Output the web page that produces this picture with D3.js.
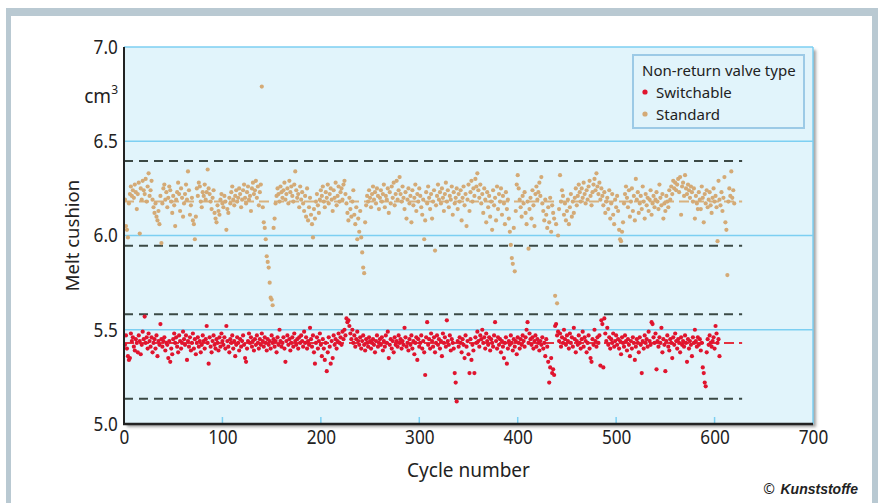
<!DOCTYPE html>
<html>
<head>
<meta charset="utf-8">
<script src="https://cdn.jsdelivr.net/npm/d3@7"></script>
<style>
  body { margin: 0; background: #fff; }
  svg { display: block; }
  text { font-family: "Noto Sans", "Open Sans", sans-serif; fill: #222; }
</style>
</head>
<body>
<div id="chart"></div>
<script>
// tick labels
const xTicks = [0, 100, 200, 300, 400, 500, 600, 700];
const yTicks = [5.0, 5.5, 6.0, 6.5, 7.0];
const gridValues = [5.5, 6.0, 6.5];

// legend
const seriesNames = ["Switchable", "Standard"];

// control limits
const standardLimits = [6.395, 5.946];
const standardMean = 6.18;
const switchableLimits = [5.582, 5.134];
const switchableMean = 5.43;
const limitCycles = [0, 628];

// melt cushion per cycle (cycle = index + 1), standard valve
const standard = [
  6.19,6.05,6.03,5.99,6.17,6.22,6.26,6.21,6.24,6.20,6.27,6.23,6.14,6.22,6.28,6.01,6.25,6.19,6.29,6.24,
  6.22,6.30,6.18,6.26,6.33,6.21,6.24,6.29,6.19,6.15,6.12,6.17,6.10,6.08,6.13,6.06,6.21,5.96,6.17,6.25,
  6.27,6.19,6.23,6.15,6.20,6.26,6.24,6.18,6.12,6.21,6.16,6.05,6.19,6.23,6.28,6.22,6.13,6.25,6.20,6.10,
  6.17,6.22,6.27,6.19,6.34,6.24,6.11,6.16,6.20,6.08,6.06,5.98,6.10,6.25,6.21,6.28,6.26,6.18,6.15,6.23,
  6.21,6.27,6.19,6.23,6.35,6.25,6.22,6.18,6.14,6.20,6.24,6.12,6.09,6.07,6.16,6.13,6.11,6.19,6.22,6.17,
  6.15,6.21,6.18,6.03,6.14,6.12,6.20,6.17,6.23,6.26,6.19,6.16,6.21,6.24,6.18,6.20,6.25,6.22,6.15,6.19,
  6.24,6.27,6.20,6.17,6.23,6.26,6.19,6.21,6.13,6.25,6.28,6.22,6.24,6.29,6.20,6.26,6.16,6.23,6.27,6.79,
  6.15,6.07,6.04,5.98,5.89,5.86,5.83,5.75,5.67,5.66,5.63,6.04,6.09,6.17,6.21,6.25,6.22,6.18,6.26,6.23,
  6.20,6.24,6.28,6.19,6.22,6.25,6.17,6.29,6.23,6.26,6.21,6.18,6.27,6.34,6.24,6.20,6.22,6.15,6.26,6.19,
  6.23,6.17,6.13,6.21,6.10,6.25,6.08,6.15,6.20,6.11,6.06,5.99,6.14,6.09,6.18,6.22,6.16,6.12,6.19,6.24,
  6.21,6.26,6.18,6.15,6.23,6.20,6.27,6.17,6.22,6.25,6.19,6.13,6.24,6.20,6.28,6.16,6.21,6.26,6.18,6.23,
  6.25,6.19,6.27,6.29,6.22,6.17,6.12,6.08,6.20,6.14,6.10,6.18,6.24,6.11,6.06,6.15,5.98,6.09,6.02,6.13,
  5.99,5.91,5.83,5.80,6.07,6.16,6.21,6.18,6.24,6.20,6.15,6.22,6.26,6.19,6.23,6.17,6.25,6.21,6.14,6.20,
  6.24,6.18,6.22,6.27,6.15,6.21,6.19,6.25,6.12,6.23,6.17,6.26,6.20,6.28,6.16,6.22,6.29,6.19,6.24,6.31,
  6.22,6.18,6.26,6.20,6.14,6.23,6.09,6.19,6.25,6.17,6.21,6.07,6.24,6.16,6.20,6.27,6.13,6.22,6.18,6.25,
  6.21,6.15,6.11,6.19,5.98,6.08,6.23,6.17,6.26,6.20,6.14,6.22,6.09,6.18,6.24,5.92,6.16,6.21,6.27,6.19,
  6.23,6.17,6.25,6.20,6.13,6.22,6.28,6.18,6.24,6.15,6.21,6.19,6.26,6.11,6.23,6.17,6.20,6.25,6.14,6.22,
  6.18,6.24,6.08,6.20,6.26,6.16,6.22,6.05,6.19,6.27,6.13,6.23,6.29,6.18,6.25,6.21,6.30,6.26,6.33,6.24,
  6.20,6.27,6.17,6.22,6.12,6.25,6.19,6.07,6.23,6.15,6.21,6.10,6.18,6.03,6.24,6.16,6.20,6.08,6.26,6.14,
  6.22,6.18,6.25,6.11,6.21,6.17,6.06,6.23,6.14,6.19,6.09,6.02,5.95,5.88,5.85,6.04,5.81,6.13,6.27,6.32,
  6.25,6.19,6.15,6.10,6.21,6.17,6.23,6.12,6.06,6.18,5.93,6.14,6.20,6.09,6.24,6.16,6.05,6.22,6.26,6.19,
  6.23,6.28,6.21,6.31,6.17,6.13,6.08,6.19,6.11,6.04,6.15,6.07,6.20,6.02,6.16,6.12,6.09,5.68,6.06,5.64,
  6.00,6.14,6.32,6.18,6.24,6.21,6.11,6.17,6.08,6.13,6.19,6.06,6.15,6.22,6.10,6.18,6.12,6.20,6.25,6.16,
  6.21,6.27,6.23,6.18,6.25,6.20,6.28,6.22,6.17,6.24,6.19,6.26,6.29,6.21,6.16,6.23,6.27,6.30,6.24,6.33,
  6.26,6.22,6.28,6.19,6.25,6.21,6.16,6.23,6.12,6.18,6.20,6.14,6.24,6.09,6.17,6.22,6.11,6.06,6.19,6.15,
  6.21,6.13,6.03,5.98,5.97,6.02,6.07,6.17,6.22,6.26,6.20,6.15,6.24,6.10,6.18,6.25,6.13,6.21,6.08,6.30,
  6.19,6.23,6.12,6.17,6.21,6.14,6.26,6.18,6.09,6.22,6.16,6.20,6.13,6.19,6.24,6.11,6.17,6.21,6.15,6.19,
  6.23,6.18,6.14,6.27,6.20,6.16,6.22,6.09,6.17,6.13,6.21,6.18,6.15,6.24,6.19,6.26,6.22,6.29,6.25,6.28,
  6.24,6.27,6.30,6.23,6.31,6.11,6.26,6.28,6.21,6.32,6.25,6.22,6.27,6.24,6.20,6.26,6.23,6.18,6.25,6.09,
  6.21,6.17,6.14,6.23,6.19,6.14,6.26,6.20,6.07,6.22,6.17,6.24,6.15,6.19,6.23,6.16,6.12,6.20,6.25,6.18,
  6.21,6.15,5.97,6.29,6.19,6.16,6.23,6.13,6.20,6.31,6.07,6.03,5.79,6.18,6.25,6.21,6.34,6.20,6.24,6.17
];

// melt cushion per cycle (cycle = index + 1), switchable valve
const switchable = [
  5.42,5.47,5.40,5.36,5.34,5.35,5.48,5.44,5.46,5.41,5.39,5.45,5.43,5.38,5.47,5.44,5.37,5.42,5.49,5.45,
  5.57,5.43,5.46,5.40,5.48,5.44,5.41,5.46,5.38,5.43,5.45,5.40,5.47,5.36,5.44,5.42,5.53,5.45,5.41,5.44,
  5.46,5.39,5.43,5.42,5.35,5.44,5.33,5.40,5.37,5.45,5.48,5.43,5.46,5.41,5.38,5.47,5.44,5.40,5.43,5.49,
  5.45,5.42,5.47,5.34,5.44,5.41,5.46,5.39,5.43,5.48,5.40,5.45,5.37,5.43,5.46,5.41,5.44,5.38,5.42,5.47,
  5.44,5.40,5.45,5.52,5.43,5.32,5.46,5.41,5.38,5.44,5.47,5.42,5.40,5.45,5.43,5.39,5.46,5.41,5.48,5.44,
  5.42,5.46,5.40,5.52,5.44,5.41,5.38,5.45,5.43,5.47,5.40,5.44,5.36,5.42,5.46,5.43,5.39,5.45,5.41,5.44,
  5.47,5.42,5.35,5.33,5.40,5.44,5.48,5.43,5.46,5.41,5.44,5.39,5.45,5.42,5.47,5.43,5.40,5.45,5.42,5.48,
  5.44,5.41,5.46,5.43,5.39,5.45,5.42,5.44,5.40,5.47,5.43,5.45,5.41,5.44,5.38,5.46,5.42,5.50,5.44,5.41,
  5.43,5.46,5.40,5.33,5.44,5.47,5.42,5.45,5.39,5.43,5.46,5.41,5.48,5.44,5.42,5.45,5.40,5.46,5.43,5.47,
  5.44,5.41,5.49,5.43,5.46,5.40,5.44,5.42,5.51,5.45,5.41,5.47,5.38,5.32,5.43,5.46,5.40,5.44,5.48,5.42,
  5.36,5.45,5.40,5.34,5.43,5.28,5.38,5.46,5.41,5.32,5.44,5.35,5.47,5.42,5.45,5.40,5.44,5.48,5.43,5.46,
  5.42,5.49,5.45,5.50,5.47,5.56,5.54,5.55,5.52,5.48,5.45,5.50,5.43,5.47,5.41,5.45,5.49,5.44,5.42,5.46,
  5.40,5.44,5.47,5.42,5.39,5.45,5.43,5.41,5.46,5.44,5.40,5.43,5.45,5.42,5.38,5.44,5.47,5.41,5.43,5.45,
  5.42,5.46,5.39,5.44,5.41,5.47,5.43,5.49,5.35,5.42,5.45,5.40,5.44,5.38,5.46,5.42,5.44,5.41,5.47,5.43,
  5.45,5.40,5.44,5.42,5.51,5.46,5.41,5.43,5.39,5.45,5.42,5.47,5.40,5.44,5.37,5.43,5.46,5.34,5.45,5.41,
  5.43,5.47,5.40,5.44,5.38,5.26,5.46,5.54,5.42,5.45,5.40,5.48,5.44,5.41,5.46,5.38,5.43,5.47,5.42,5.45,
  5.40,5.44,5.36,5.48,5.43,5.46,5.41,5.55,5.44,5.42,5.47,5.39,5.45,5.43,5.40,5.27,5.22,5.12,5.44,5.41,
  5.46,5.43,5.38,5.45,5.42,5.35,5.47,5.41,5.44,5.37,5.27,5.45,5.34,5.42,5.39,5.27,5.46,5.43,5.49,5.44,
  5.41,5.47,5.45,5.50,5.43,5.46,5.40,5.48,5.44,5.42,5.46,5.39,5.45,5.43,5.41,5.47,5.54,5.44,5.40,5.46,
  5.42,5.45,5.38,5.44,5.41,5.35,5.43,5.46,5.32,5.40,5.44,5.42,5.47,5.43,5.39,5.45,5.41,5.44,5.37,5.46,
  5.43,5.40,5.45,5.42,5.47,5.44,5.41,5.46,5.50,5.54,5.43,5.48,5.45,5.42,5.46,5.40,5.44,5.47,5.41,5.45,
  5.43,5.39,5.44,5.42,5.46,5.40,5.43,5.36,5.45,5.41,5.33,5.22,5.30,5.35,5.27,5.29,5.26,5.52,5.53,5.47,
  5.49,5.44,5.48,5.41,5.46,5.43,5.50,5.45,5.42,5.47,5.44,5.40,5.48,5.43,5.46,5.41,5.51,5.45,5.38,5.44,
  5.42,5.47,5.43,5.40,5.45,5.49,5.41,5.46,5.44,5.38,5.43,5.47,5.40,5.35,5.33,5.45,5.42,5.50,5.44,5.41,
  5.46,5.43,5.47,5.31,5.55,5.53,5.30,5.56,5.48,5.44,5.51,5.42,5.46,5.40,5.45,5.43,5.48,5.41,5.44,5.47,
  5.42,5.45,5.40,5.44,5.37,5.46,5.43,5.41,5.47,5.44,5.39,5.45,5.42,5.36,5.44,5.40,5.46,5.43,5.34,5.41,
  5.45,5.43,5.38,5.46,5.42,5.27,5.44,5.40,5.47,5.43,5.45,5.41,5.49,5.44,5.42,5.54,5.53,5.46,5.43,5.48,
  5.29,5.44,5.41,5.46,5.43,5.51,5.38,5.45,5.42,5.28,5.44,5.47,5.41,5.39,5.45,5.43,5.35,5.46,5.42,5.48,
  5.44,5.40,5.45,5.43,5.38,5.46,5.42,5.44,5.41,5.47,5.43,5.33,5.45,5.40,5.44,5.42,5.36,5.46,5.43,5.50,
  5.44,5.41,5.46,5.42,5.45,5.39,5.43,5.30,5.27,5.22,5.20,5.38,5.45,5.42,5.47,5.43,5.41,5.44,5.46,5.40,
  5.52,5.48,5.43,5.45,5.36
];

const W = 878, H = 503;
const margin = { top: 47, right: 65, bottom: 79, left: 124 },
    width = W - margin.left - margin.right,
    height = H - margin.top - margin.bottom;

const svg = d3.select("#chart").append("svg")
    .attr("width", W)
    .attr("height", H);

// outer frame
svg.append("rect").attr("x", 6).attr("y", 8).attr("width", W - 6).attr("height", H)
    .attr("fill", "#b9c9d2");
svg.append("rect").attr("x", 11).attr("y", 16).attr("width", 861).attr("height", H)
    .attr("fill", "#fff");

const defs = svg.append("defs");
const f = defs.append("filter").attr("id", "shadow")
    .attr("x", "-5%").attr("y", "-5%").attr("width", "110%").attr("height", "110%");
f.append("feDropShadow").attr("dx", 3).attr("dy", 3).attr("stdDeviation", 1.5)
    .attr("flood-color", "#555").attr("flood-opacity", 0.55);

const x = d3.scaleLinear().domain([0, 700]).range([margin.left, margin.left + width]);
const y = d3.scaleLinear().domain([5, 7]).range([margin.top + height, margin.top]);

// plot area
svg.append("rect")
    .attr("x", x(0)).attr("y", y(7))
    .attr("width", x(700) - x(0)).attr("height", y(5) - y(7))
    .attr("fill", "#e1f4fb")
    .attr("filter", "url(#shadow)");

// grid lines
svg.append("g")
    .selectAll("line")
    .data(gridValues.concat([7.0]))
    .join("line")
    .attr("x1", x(0)).attr("x2", x(700))
    .attr("y1", d => y(d)).attr("y2", d => y(d))
    .attr("stroke", "#7ccff2").attr("stroke-width", 1.5);

svg.append("line")
    .attr("x1", x(700)).attr("x2", x(700))
    .attr("y1", y(7)).attr("y2", y(5))
    .attr("stroke", "#7ccff2").attr("stroke-width", 1.5);

// small inner ticks at the bottom
svg.append("g")
    .selectAll("line")
    .data(xTicks.slice(1, -1))
    .join("line")
    .attr("x1", d => x(d)).attr("x2", d => x(d))
    .attr("y1", y(5) - 7).attr("y2", y(5))
    .attr("stroke", "#7ccff2").attr("stroke-width", 1.5);

// control limits (black dashes)
const limits = standardLimits.concat(switchableLimits);
svg.append("g")
    .selectAll("line")
    .data(limits)
    .join("line")
    .attr("x1", x(limitCycles[0])).attr("x2", x(limitCycles[1]))
    .attr("y1", d => y(d)).attr("y2", d => y(d))
    .attr("stroke", "#3b4945").attr("stroke-width", 2)
    .attr("stroke-dasharray", "9,6");

// mean lines
const means = [
    { v: standardMean, color: "#d9b27f" },
    { v: switchableMean, color: "#e4303f" }
];
svg.append("g")
    .selectAll("line")
    .data(means)
    .join("line")
    .attr("x1", x(limitCycles[0])).attr("x2", x(limitCycles[1]))
    .attr("y1", d => y(d.v)).attr("y2", d => y(d.v))
    .attr("stroke", d => d.color).attr("stroke-width", 2)
    .attr("stroke-dasharray", "10,5");

// points
svg.append("g")
    .selectAll("circle")
    .data(standard)
    .join("circle")
    .attr("cx", (d, i) => x(i + 1))
    .attr("cy", d => y(d))
    .attr("r", 2.1)
    .style("fill", "#d4aa76");

svg.append("g")
    .selectAll("circle")
    .data(switchable)
    .join("circle")
    .attr("cx", (d, i) => x(i + 1))
    .attr("cy", d => y(d))
    .attr("r", 2.1)
    .style("fill", "#e0142e");

// axis lines
svg.append("line")
    .attr("x1", x(0)).attr("x2", x(0))
    .attr("y1", y(7)).attr("y2", y(5) + 1)
    .attr("stroke", "#222").attr("stroke-width", 2);
svg.append("line")
    .attr("x1", x(0) - 1).attr("x2", x(700))
    .attr("y1", y(5)).attr("y2", y(5))
    .attr("stroke", "#222").attr("stroke-width", 2.5);

// tick labels (slightly narrowed, like the condensed face of the original)
const xAxis = svg.append("g")
    .attr("transform", `translate(0,${y(5)})`)
    .call(d3.axisBottom(x).tickValues(xTicks).tickSize(0).tickPadding(6));
xAxis.select(".domain").remove();
xAxis.selectAll("text")
    .attr("transform", "scale(0.88,1)")
    .style("font-family", "'Noto Sans', sans-serif")
    .style("font-size", "19.5px")
    .style("fill", "#222");

const yAxis = svg.append("g")
    .attr("transform", `translate(${x(0)},0)`)
    .call(d3.axisLeft(y).tickValues(yTicks).tickFormat(d3.format(".1f")).tickSize(0).tickPadding(7));
yAxis.select(".domain").remove();
yAxis.selectAll("text")
    .attr("transform", "scale(0.88,1)")
    .style("font-family", "'Noto Sans', sans-serif")
    .style("font-size", "19.5px")
    .style("fill", "#222");

// unit
const unit = svg.append("text")
    .attr("x", 118).attr("y", 103)
    .attr("text-anchor", "end")
    .style("font-size", "19px");
unit.append("tspan").text("cm");
unit.append("tspan").attr("dy", -9).style("font-size", "12px").text("3");

// axis titles
svg.append("text")
    .attr("transform", `translate(79,${(y(5) + y(7)) / 2}) rotate(-90)`)
    .attr("text-anchor", "middle")
    .style("font-size", "18.5px")
    .text("Melt cushion");

svg.append("text")
    .attr("x", (x(0) + x(700)) / 2).attr("y", 477)
    .attr("text-anchor", "middle")
    .style("font-size", "19px")
    .text("Cycle number");

// legend
const legend = svg.append("g");
legend.append("rect")
    .attr("x", 633).attr("y", 55).attr("width", 171).attr("height", 73)
    .attr("fill", "#e1f4fb").attr("stroke", "#9ccae6").attr("stroke-width", 2);
legend.append("text").attr("x", 642).attr("y", 76)
    .style("font-size", "15px").text("Non-return valve type");
const legendColors = ["#e0142e", "#d4aa76"];
legend.selectAll(".item")
    .data(seriesNames)
    .join("g")
    .attr("class", "item")
    .attr("transform", (d, i) => `translate(645,${92 + i * 22})`)
    .each(function (d, i) {
        const g = d3.select(this);
        g.append("circle").attr("r", 2.6).style("fill", legendColors[i]);
        g.append("text").attr("x", 11).attr("y", 5.5)
            .style("font-size", "15px").text(d);
    });

// credit
svg.append("text")
    .attr("x", 858).attr("y", 494)
    .attr("text-anchor", "end")
    .style("font-size", "14px")
    .style("font-family", "'Liberation Sans Narrow', 'Liberation Sans', sans-serif")
    .style("font-weight", "bold")
    .style("font-style", "italic")
    .text("Kunststoffe");
svg.append("text")
    .attr("x", 775).attr("y", 494)
    .attr("text-anchor", "end")
    .style("font-size", "14px")
    .text("©");
</script>
</body>
</html>
